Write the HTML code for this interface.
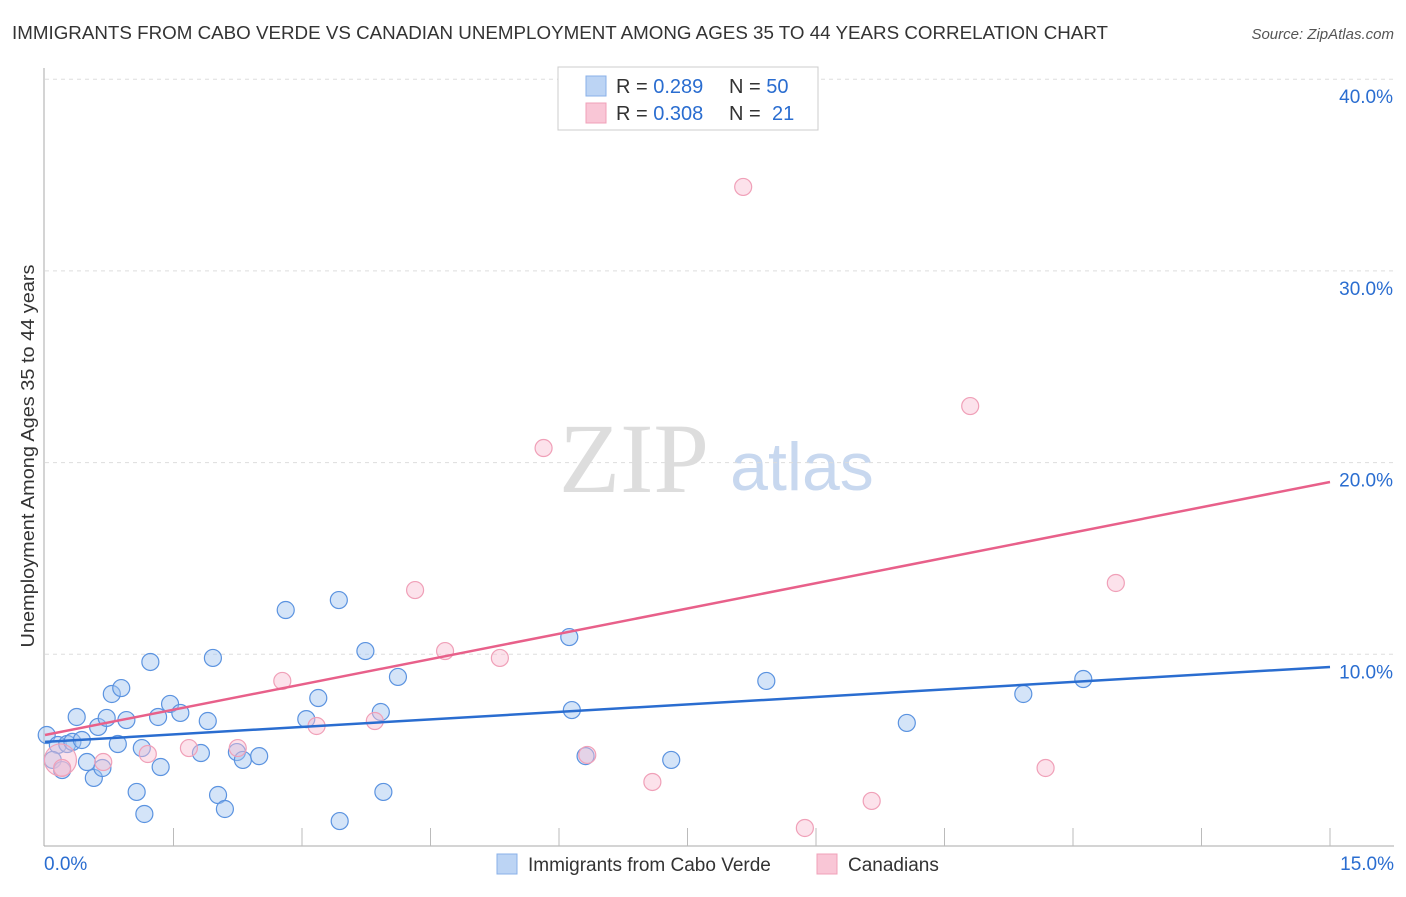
<!DOCTYPE html>
<html><head><meta charset="utf-8"><style>
body{margin:0;background:#fff;font-family:"Liberation Sans",sans-serif}
svg text{font-family:"Liberation Sans",sans-serif}
</style></head><body>
<svg id="c" width="1406" height="892">
<text x="12" y="39" font-size="18" fill="#333" textLength="1096" lengthAdjust="spacingAndGlyphs">IMMIGRANTS FROM CABO VERDE VS CANADIAN UNEMPLOYMENT AMONG AGES 35 TO 44 YEARS CORRELATION CHART</text>
<text x="1394" y="39" font-size="15" fill="#555" font-style="italic" text-anchor="end">Source: ZipAtlas.com</text>
<text x="34" y="456" font-size="18" fill="#333" text-anchor="middle" textLength="383" lengthAdjust="spacingAndGlyphs" transform="rotate(-90 34 456)">Unemployment Among Ages 35 to 44 years</text>
<text x="634" y="492" font-size="100" fill="#ddd" style="font-family:'Liberation Serif',serif" text-anchor="middle">ZIP</text>
<text x="802" y="490" font-size="68" fill="#c8d8ef" text-anchor="middle">atlas</text>
<g id="grid"></g><g id="axes"></g><g id="pts"></g><g id="lines"></g>
<g>
<rect x="558" y="67" width="260" height="63" fill="#fff" stroke="#ccc"/>
<rect x="586" y="76" width="20" height="20" fill="#bcd4f4" stroke="#8ab0e8"/>
<rect x="586" y="103" width="20" height="20" fill="#f9c6d6" stroke="#f0a0b8"/>
<text x="616" y="93" font-size="20" fill="#333">R = <tspan fill="#2a6dd0">0.289</tspan><tspan x="729">N = </tspan><tspan fill="#2a6dd0">50</tspan></text>
<text x="616" y="120" font-size="20" fill="#333">R = <tspan fill="#2a6dd0">0.308</tspan><tspan x="729">N = </tspan><tspan x="772" fill="#2a6dd0">21</tspan></text>
</g>
<g>
<rect x="497" y="854" width="20" height="20" fill="#bcd4f4" stroke="#8ab0e8"/>
<text x="528" y="871" font-size="19" fill="#333">Immigrants from Cabo Verde</text>
<rect x="817" y="854" width="20" height="20" fill="#f9c6d6" stroke="#f0a0b8"/>
<text x="848" y="871" font-size="19" fill="#333">Canadians</text>
</g>
</svg>
<script>
const yTicks=[10,20,30,40];
const xTickLabels=["0.0%","15.0%"];
const blueX=[0.02,0.15,0.09,0.20,0.26,0.32,0.37,0.43,0.49,0.57,0.62,0.67,0.72,0.78,0.85,0.89,0.95,1.07,1.13,1.16,1.23,1.32,1.35,1.46,1.58,1.82,1.90,1.96,2.02,2.10,2.24,2.31,2.50,2.81,3.05,3.19,3.43,3.44,3.74,3.92,3.95,4.12,6.12,6.15,6.31,7.31,8.42,10.06,11.42,12.12];
const blueY=[5.79,5.27,4.49,3.96,5.32,5.43,6.73,5.53,4.38,3.55,6.21,4.07,6.68,7.93,5.32,8.24,6.57,2.82,5.11,1.67,9.60,6.73,4.12,7.41,6.94,4.85,6.52,9.81,2.66,1.93,4.90,4.49,4.69,12.31,6.62,7.72,12.83,1.30,10.17,6.99,2.82,8.82,10.90,7.09,4.69,4.49,8.61,6.42,7.93,8.71];
const pinkX=[0.18,0.20,0.68,1.20,1.68,2.25,2.77,3.17,3.85,4.32,4.67,5.31,5.82,6.33,7.09,8.15,8.87,9.65,10.80,11.68,12.50,7.70];
const pinkY=[4.49,4.07,4.38,4.80,5.11,5.11,8.61,6.26,6.52,13.35,10.17,9.81,20.76,4.75,3.34,34.38,0.94,2.35,22.95,4.07,13.72,40.06];
const blueLine=[5.43,9.34];
const pinkLine=[5.79,18.99];
const xMax=15;
const NS="http://www.w3.org/2000/svg";
const X=v=>45+v*(1330-45)/xMax, Y=v=>846-v*19.17;
function mk(p,t,a){const e=document.createElementNS(NS,t);for(const k in a)e.setAttribute(k,a[k]);p.appendChild(e);return e;}
const grid=document.getElementById('grid'),axes=document.getElementById('axes'),pts=document.getElementById('pts'),lines=document.getElementById('lines');
yTicks.forEach(t=>{
 const l=mk(grid,'line',{x1:45,x2:1394,y1:Y(t),y2:Y(t),stroke:'#ddd','stroke-dasharray':'4,4'});
 
 
 const tx=mk(grid,'text',{x:1393,y:Y(t)+24,'font-size':19,fill:'#2a6dd0','text-anchor':'end'});
 tx.textContent=t.toFixed(1)+'%';
 
 
});
const ax=mk(axes,'line',{x1:44,x2:44,y1:68,y2:846,stroke:'#aaa'});


const bx=mk(axes,'line',{x1:44,x2:1394,y1:846,y2:846,stroke:'#aaa'});


for(let i=1;i<=10;i++){const v=i*1.5;const t=mk(axes,'line',{x1:X(v),x2:X(v),y1:828,y2:846,stroke:'#bbb'});
 
 }
[[0,44,'start'],[1,1394,'end']].forEach(([i,x,a])=>{const t=mk(axes,'text',{x:x,y:870,'font-size':19,fill:'#2a6dd0','text-anchor':a});t.textContent=xTickLabels[i];
 
 });
blueX.forEach((x,i)=>{const c=mk(pts,'circle',{cx:X(x),cy:Y(blueY[i]),r:8.5,fill:'rgba(160,195,240,0.45)',stroke:'#5b93e0','stroke-width':1.2});
 
 });
pinkX.forEach((x,i)=>{const c=mk(pts,'circle',{cx:X(x),cy:Y(pinkY[i]),r:i===0?16:8.5,fill:'rgba(248,190,210,0.45)',stroke:'#f0a0b8','stroke-width':1.2});
 
 });
const bl=mk(lines,'line',{x1:X(0),y1:Y(blueLine[0]),x2:X(xMax),y2:Y(blueLine[1]),stroke:'#2a6dd0','stroke-width':2.5});


const pl=mk(lines,'line',{x1:X(0),y1:Y(pinkLine[0]),x2:X(xMax),y2:Y(pinkLine[1]),stroke:'#e8608a','stroke-width':2.5});


</script>
</body></html>
